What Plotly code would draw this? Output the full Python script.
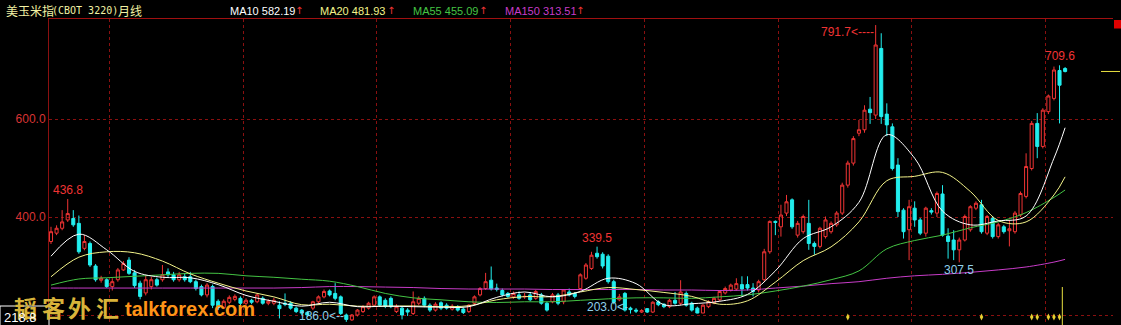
import plotly.graph_objects as go

# ---------------- data ----------------
OPEN = [350, 367, 377, 394, 397, 387, 336, 346, 300, 271, 272, 258, 272, 292, 312, 286, 265, 245, 258, 272,
        272, 288, 282, 272, 278, 278, 268, 258, 241, 258, 228, 215, 226, 232, 234, 224, 230, 227, 234, 224,
        224, 220, 224, 224, 214, 210, 205, 214, 227, 237, 249, 244, 237, 200, 190, 200, 207, 214, 220, 237,
        230, 234, 207, 214, 210, 203, 224, 234, 220, 210, 225, 220, 212, 217, 212, 207, 224, 241, 254, 271,
        255, 250, 244, 237, 241, 237, 241, 234, 241, 224, 227, 241, 227, 247, 244, 254, 275, 295, 326, 324,
        320, 268, 231, 244, 214, 210, 206, 213, 206, 227, 222, 217, 230, 224, 244, 224, 214, 204, 217, 225,
        231, 245, 251, 253, 262, 262, 255, 251, 272, 329, 391, 380, 408, 435, 363, 370, 387, 346, 340, 360,
        370, 384, 408, 465, 510, 571, 578, 620, 608, 744, 610, 584, 506, 414, 374, 418, 394, 367, 413, 408,
        447, 361, 353, 333, 353, 374, 418, 425, 367, 397, 360, 380, 372, 370, 404, 442, 499, 591, 544, 615,
        642, 699, 703]
HIGH = [380, 383, 414, 436.8, 414, 403, 363, 350, 304, 280, 275, 275, 296, 310, 318, 292, 270, 280, 278, 276,
        302, 295, 288, 288, 285, 288, 272, 262, 265, 262, 232, 232, 240, 242, 238, 234, 233, 244, 238, 232,
        235, 228, 244, 228, 217, 212, 208, 229, 240, 252, 252, 265, 240, 203, 202, 212, 220, 227, 240, 240,
        234, 238, 222, 217, 214, 248, 238, 238, 224, 226, 228, 224, 222, 220, 215, 222, 240, 257, 286, 299,
        264, 254, 247, 248, 248, 245, 247, 251, 245, 227, 245, 245, 253, 254, 247, 285, 306, 329, 339.5, 328,
        324, 272, 243, 247, 217, 214, 212, 214, 228, 230, 224, 233, 247, 271, 248, 227, 217, 222, 230, 237,
        251, 258, 264, 275, 279, 279, 265, 272, 335, 393, 393, 425, 445, 438, 392, 405, 435, 350, 380, 401,
        391, 412, 470, 515, 565, 598, 628, 645, 791.7, 775, 632, 591, 520, 418, 435, 432, 398, 421, 418, 452,
        465, 377, 373, 358, 405, 424, 432, 435, 404, 401, 388, 384, 394, 412, 452, 530, 596, 612, 622, 650,
        707, 709.6, 706]
LOW = [345, 363, 373, 390, 380, 325, 332, 298, 268, 266, 255, 250, 268, 290, 282, 255, 232, 240, 252, 258,
       268, 278, 268, 268, 268, 265, 250, 238, 236, 214, 210, 212, 222, 228, 220, 220, 222, 224, 221, 220,
       220, 193, 218, 211, 204, 200, 196, 210, 224, 234, 238, 230, 200, 186, 188, 197, 204, 211, 217, 217,
       214, 214, 204, 191, 198, 200, 220, 216, 206, 207, 210, 211, 209, 207, 202, 204, 221, 238, 251, 250,
       248, 238, 235, 233, 231, 233, 228, 231, 221, 207, 224, 220, 222, 238, 234, 250, 272, 292, 315, 295,
       264, 222, 228, 207, 203, 204, 204, 204, 204, 218, 214, 214, 221, 220, 217, 207, 203.5, 204, 214, 222,
       228, 242, 248, 250, 238, 250, 238, 246, 268, 325, 363, 360, 402, 376, 358, 366, 333, 323, 336, 356,
       366, 380, 404, 460, 505, 565, 572, 590, 600, 590, 565, 495, 400, 356, 312, 380, 363, 360, 405, 400,
       360, 315, 312, 307.5, 350, 370, 414, 366, 363, 356, 356, 366, 340, 366, 400, 438, 495, 520, 540, 610,
       638, 591, 695]
CLOSE = [370, 377, 390, 407, 384, 329, 350, 302, 272, 275, 258, 268, 292, 305, 285, 260, 238, 272, 272, 261,
         282, 282, 272, 282, 272, 268, 254, 241, 261, 220, 215, 228, 236, 238, 224, 230, 226, 241, 224, 228,
         230, 213, 222, 214, 207, 204, 200, 227, 237, 248, 241, 234, 203, 191, 200, 210, 217, 224, 237, 220,
         218, 217, 217, 200, 206, 227, 234, 220, 210, 222, 214, 214, 218, 210, 205, 220, 237, 254, 268, 253,
         252, 241, 238, 244, 234, 238, 231, 248, 224, 210, 241, 224, 251, 241, 238, 282, 302, 322, 319, 300,
         268, 226, 237, 210, 211, 208, 209, 206, 226, 221, 217, 230, 224, 247, 220, 210, 204, 220, 227, 234,
         248, 254, 261, 264, 253, 255, 248, 268, 329, 391, 389, 404, 431, 380, 387, 401, 346, 340, 377, 394,
         387, 408, 465, 510, 560, 578, 618, 613, 751, 605, 588, 499, 411, 370, 421, 394, 367, 418, 410, 448,
         363, 350, 333, 353, 401, 421, 428, 370, 401, 360, 384, 370, 376, 408, 448, 503, 591, 544, 618, 647,
         700, 669, 697]

# moving averages at every 5th bar (and the last bar)
MA_IDX = list(range(0, 181, 5)) + [182]
MA10 = [320, 365, 333, 289, 277, 276, 262, 240, 228, 218, 226, 217, 218, 217, 216, 217, 236, 247, 237, 248,
        275, 264, 221, 223, 228, 242, 290, 356, 380, 430, 568, 520, 412, 384, 392, 402, 520, 582.19]
MA20 = [278, 318, 329, 327, 310, 284, 265, 249, 237, 221, 222, 218, 218, 218.5, 217, 219, 231, 237.5, 237.5, 247,
        256, 252, 246, 238, 222, 229, 267, 311, 339, 390, 474, 483, 491, 452, 393, 390, 445, 481.93]
MA55 = [261, 273.5, 276, 279, 282, 285, 285, 280, 277, 273, 269, 258, 244, 235, 231, 227, 225.5, 227, 227, 230,
        233, 235, 235, 234, 237, 241, 249, 259, 272, 290, 335, 352, 363, 378, 390, 409, 440, 455.09]
MA150 = [255, 255, 255, 255, 255, 255, 255, 255, 255, 256, 258, 258, 257, 256, 254, 253, 253, 253, 252, 252,
         252, 252, 251, 251, 250, 251, 255, 259, 264, 268, 275, 280, 283, 287, 292, 298, 308, 313.51]

EVENT_IDX = [143, 167, 176, 177, 179, 180, 181]

TITLE_CN = "美玉米指"
TITLE_CODE = "(CBOT 3220)"
TITLE_PERIOD = "月线"
MA_LABELS = ["MA10 582.19", "MA20 481.93", "MA55 455.09", "MA150 313.51"]
Y_TICKS = [200, 400, 600]
Y_TICKTEXT = ["", "400.0", "600.0"]
CURSOR_LABEL = "218.8"

# ---------------- styling ----------------
RED = "#f03434"
CYAN = "#22eeee"
C_MA10 = "#ffffff"
C_MA20 = "#f4f48a"
C_MA55 = "#44c444"
C_MA150 = "#c83cc8"
GRID = "#8a1010"
LOWLBL = "#8fd0ea"

W, H = 1121, 325
PL, PR, PT, PB = 49, 1113, 19, 325


def px(x):
    return (x - PL) / (PR - PL)


def py(y):
    return (PB - y) / (PB - PT)


N = len(CLOSE)
X = list(range(N))

fig = go.Figure()
fig.add_trace(go.Candlestick(
    x=X, open=OPEN, high=HIGH, low=LOW, close=CLOSE,
    increasing=dict(line=dict(color=RED, width=1), fillcolor="rgba(0,0,0,0)"),
    decreasing=dict(line=dict(color=CYAN, width=1), fillcolor=CYAN),
    whiskerwidth=0, hoverinfo="skip", showlegend=False,
))
for vals, col in [(MA150, C_MA150), (MA55, C_MA55), (MA20, C_MA20), (MA10, C_MA10)]:
    fig.add_trace(go.Scatter(x=MA_IDX, y=vals, mode="lines",
                             line=dict(color=col, width=1, shape="spline", smoothing=1.0),
                             hoverinfo="skip", showlegend=False))
fig.add_trace(go.Scatter(x=EVENT_IDX, y=[196] * len(EVENT_IDX), mode="markers",
                         marker=dict(symbol="diamond-tall", size=5, color="#e8d030"),
                         hoverinfo="skip", showlegend=False))

ann = []
# title
ann.append(dict(x=px(4), y=py(10), xref="paper", yref="paper", text=TITLE_CN, showarrow=False,
                xanchor="left", yanchor="middle",
                font=dict(family="Noto Sans CJK SC", size=12, color="#f2f2a4")))
ann.append(dict(x=px(50), y=py(10), xref="paper", yref="paper", text=TITLE_CODE, showarrow=False,
                xanchor="left", yanchor="middle",
                font=dict(family="DejaVu Sans Mono", size=10, color="#f2f2a4")))
ann.append(dict(x=px(116), y=py(10), xref="paper", yref="paper", text=TITLE_PERIOD, showarrow=False,
                xanchor="left", yanchor="middle",
                font=dict(family="Noto Sans CJK SC", size=12, color="#f2f2a4")))
# MA legend texts
for txt, col, x0, xa in zip(MA_LABELS, [C_MA10, C_MA20, C_MA55, C_MA150],
                            [228, 318, 411, 503], [299, 391, 483, 580]):
    ann.append(dict(x=px(x0), y=py(10.5), xref="paper", yref="paper", text=txt, showarrow=False,
                    xanchor="left", yanchor="middle",
                    font=dict(family="Liberation Sans", size=11, color=col)))
    ann.append(dict(x=px(xa), y=py(10.5), xref="paper", yref="paper", text="↑", showarrow=False,
                    xanchor="center", yanchor="middle",
                    font=dict(family="DejaVu Sans", size=10, color=RED)))

# high / low marks
ihi1 = HIGH.index(max(HIGH[:20]))
ann.append(dict(x=ihi1, y=HIGH[ihi1], text=f"{HIGH[ihi1]:.1f}", showarrow=False, yshift=9,
                xanchor="center", yanchor="middle", font=dict(size=12, color=RED)))
ihi2 = HIGH.index(max(HIGH[80:120]))
ann.append(dict(x=ihi2, y=HIGH[ihi2], text=f"{HIGH[ihi2]:.1f}", showarrow=False, yshift=9,
                xanchor="center", yanchor="middle", font=dict(size=12, color=RED)))
ihi3 = HIGH.index(max(HIGH))
ann.append(dict(x=ihi3, y=HIGH[ihi3], text=f"{HIGH[ihi3]:.1f}<----", showarrow=False, yshift=-7,
                xanchor="right", yanchor="middle", font=dict(size=12, color=RED)))
ihi4 = HIGH.index(max(HIGH[170:]))
ann.append(dict(x=ihi4, y=HIGH[ihi4], text=f"{HIGH[ihi4]:.1f}", showarrow=False, yshift=9,
                xanchor="center", yanchor="middle", font=dict(size=12, color=RED)))
ilo1 = LOW.index(min(LOW[:80]))
ann.append(dict(x=ilo1, y=LOW[ilo1], text=f"{LOW[ilo1]:.1f}<--", showarrow=False, yshift=6,
                xanchor="right", yanchor="middle", font=dict(size=12, color=LOWLBL)))
ilo2 = LOW.index(min(LOW[95:110]))
ann.append(dict(x=ilo2, y=LOW[ilo2], text=f"{LOW[ilo2]:.1f}<-", showarrow=False, yshift=7,
                xanchor="right", yanchor="middle", font=dict(size=12, color=LOWLBL)))
ilo3 = LOW.index(min(LOW[150:]))
ann.append(dict(x=ilo3, y=LOW[ilo3], text=f"{LOW[ilo3]:.1f}", showarrow=False, yshift=-8,
                xanchor="center", yanchor="middle", font=dict(size=12, color=LOWLBL)))

# watermark
for ch, cx in zip("韬客外汇", [25, 53, 79, 107]):
    ann.append(dict(x=px(cx), y=py(307), xref="paper", yref="paper", text=ch, showarrow=False,
                    xanchor="center", yanchor="middle",
                    font=dict(family="Noto Sans CJK SC", size=23, color="#d8b43a", weight="bold")))
ann.append(dict(x=px(123), y=py(309), xref="paper", yref="paper", text="talkforex.com", showarrow=False,
                xanchor="left", yanchor="middle",
                font=dict(family="Liberation Sans", size=20, color="#ff9418", weight="bold")))
# cursor value box text
ann.append(dict(x=px(2), y=py(317), xref="paper", yref="paper", text=CURSOR_LABEL, showarrow=False,
                xanchor="left", yanchor="middle",
                font=dict(family="Liberation Sans", size=13, color="#ffffff")))

shapes = [
    # cursor value box
    dict(type="rect", xref="paper", yref="paper", x0=px(0), x1=px(49), y0=py(306), y1=py(345),
         line=dict(color="#ffffff", width=1), fillcolor="#000000", layer="above"),
    # last price tick at right
    dict(type="line", xref="paper", yref="y", x0=px(1101), x1=px(1120), y0=CLOSE[-1], y1=CLOSE[-1],
         line=dict(color="#e8e040", width=1)),
    # cursor vertical line
    dict(type="line", xref="x", yref="paper", x0=181.5, x1=181.5, y0=py(287), y1=py(340),
         line=dict(color="#e8e040", width=1)),
    # red corner square
    dict(type="rect", xref="paper", yref="paper", x0=px(1114), x1=px(1121), y0=py(20), y1=py(28.5),
         line=dict(width=0), fillcolor="#e00000"),
]

fig.update_layout(
    width=W, height=H, autosize=False,
    margin=dict(l=PL, r=W - PR, t=PT, b=0, pad=0),
    paper_bgcolor="#000000", plot_bgcolor="#000000",
    font=dict(family="Liberation Sans", size=12, color=RED),
    showlegend=False, boxgap=0.22,
    annotations=ann, shapes=shapes,
    xaxis=dict(range=[(PL - 51) / 5.572, (PR - 51) / 5.572], side="top",
               showline=True, linecolor="#a01010", linewidth=1,
               showgrid=True, gridcolor=GRID, griddash="3px,3px", gridwidth=1,
               tick0=10.5, dtick=24, showticklabels=False, ticks="", zeroline=False,
               rangeslider=dict(visible=False), fixedrange=True),
    yaxis=dict(range=[600 - (PB - 119) / 0.49, 600 + (119 - PT) / 0.49],
               showline=True, linecolor="#8a1010", linewidth=1,
               showgrid=True, gridcolor=GRID, griddash="3px,3px", gridwidth=1,
               tickvals=Y_TICKS, ticktext=Y_TICKTEXT, ticks="", zeroline=False,
               tickfont=dict(family="Liberation Sans", size=12, color="#d83434"),
               ticklabelstandoff=0, fixedrange=True),
)

fig.write_html("out.html")
